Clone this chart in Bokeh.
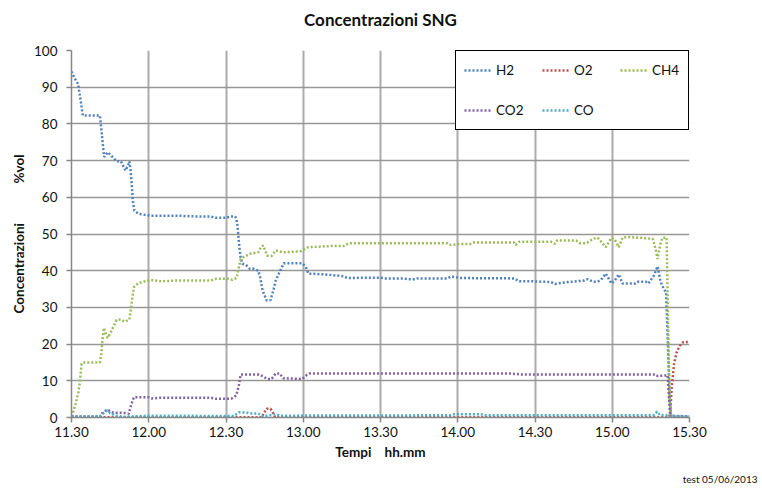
from bokeh.plotting import figure
from bokeh.models import FixedTicker, Legend, LegendItem, Title, Range1d
from bokeh.embed import file_html
from bokeh.resources import INLINE

# time axis: minutes after 11:30
tick_minutes = [0, 30, 60, 90, 120, 150, 180, 210, 240]
tick_labels = ["11.30", "12.00", "12.30", "13.00", "13.30", "14.00", "14.30", "15.00", "15.30"]
y_ticks = [0, 10, 20, 30, 40, 50, 60, 70, 80, 90, 100]

h2_t = [0, 0.8, 1.9, 2.6, 2.9, 3.3, 3.7, 4.0, 4.4, 11.0, 11.3, 11.8, 12.3, 12.7, 14.1, 15.8,
        17.5, 19.2, 20.3, 21.0, 22.1, 22.5, 23.0, 23.3, 23.8, 24.4, 26.0, 30.4, 35, 41, 48,
        54, 56, 60, 62, 63.5, 64.0, 64.5, 65.1, 65.7, 66.4, 67.7, 69.3, 70.9, 72.5, 73.2,
        74.2, 75.8, 77.3, 78.5, 79.3, 80.8, 82.4, 89.6, 91, 92, 98, 105.7, 107.1, 115.6,
        120.1, 122, 127.9, 132.4, 134.3, 146, 147.3, 151.2, 171.9, 173.9, 179.7, 186.2,
        187.7, 192.7, 199.1, 200.4, 202.5, 204.3, 205.6, 207.5, 209.7, 211, 212.5, 214,
        219, 220, 223, 224, 226.2, 227.6, 228.6, 229.2, 230.9, 231.6, 232.3, 232.8, 240]
h2_v = [94.3, 93, 91.6, 90.9, 89.3, 87.6, 85.7, 84.1, 82.3, 82.3, 80.5, 77, 73.5, 71, 72.3, 71.1,
        69.8, 69.8, 68.2, 67.3, 68.9, 69.8, 67, 64.4, 59.1, 56.4, 55.5, 55.0, 55.0, 55.0, 54.8,
        54.8, 54.4, 54.4, 54.8, 54.8, 54.3, 52.1, 47, 43.5, 41.9, 41.6, 40.5, 40.5, 40, 38.4,
        34.6, 31.9, 32, 35, 37.3, 39.6, 42, 42, 41, 39.2, 39, 38.5, 38.0, 38.1,
        38.1, 37.9, 37.9, 37.6, 37.9, 37.9, 38.4, 38.0, 37.9, 37.1, 37.1, 36.9,
        36.4, 36.9, 37.3, 37.7, 37.0, 37.0, 37.5, 39.2, 36.5, 37.3, 39, 36.5,
        36.5, 37, 37, 36.5, 38.7, 41.2, 37.6, 36.2, 34, 20, 5, 0.5, 0.3]

o2_t = [0, 74, 74.5, 75.8, 77.3, 78.5, 79, 232, 232.5, 233.1, 234, 235, 236.3, 237.5, 240]
o2_v = [0.1, 0.1, 1.0, 2.4, 2.4, 1.0, 0.1, 0.1, 1, 8.3, 14.6, 17.8, 19.6, 20.5, 20.6]

ch4_t = [0, 0.5, 1.5, 2.6, 3.3, 3.9, 4.5, 11, 11.5, 12.0, 12.6, 13.2, 14.1, 15.8, 17.5, 19.2,
         20.7, 22.5, 23.3, 24.2, 25.9, 28, 30.8, 34.6, 40, 48, 54, 56, 61, 62.5, 64.1, 65,
         65.7, 67, 69.3, 72.5, 73.5, 74.4, 76, 77.7, 79.3, 82.4, 89, 92, 100, 105.7, 107.7,
         146, 147.3, 151.2, 155, 156, 171.9, 172.5, 173.9, 186.2, 187.7, 188.5, 196, 197.5,
         200, 202.5, 204.3, 205.6, 207.5, 209.7, 211, 212.5, 214, 216, 225.7, 226.8, 227.6,
         228.6, 229.5, 231.1, 231.6, 232.1, 232.6, 233, 240]
ch4_v = [0.3, 1.2, 3.5, 6.5, 10, 14.6, 15, 15, 17, 21, 24.4, 23, 21.7, 24, 26.6, 26.7,
         26.1, 26.7, 31, 35.5, 36.6, 37, 37.5, 37.1, 37.3, 37.3, 37.3, 37.8, 37.8, 37.5, 38, 41,
         43.2, 43.8, 44.6, 45, 46.3, 46.9, 44.1, 44, 45.5, 45, 45.3, 46.4, 46.7, 46.7, 47.5,
         47.5, 47, 47.3, 47.3, 47.7, 47.7, 47, 47.9, 47.9, 47.3, 48.2, 48.2, 47.5,
         47.5, 48.7, 49, 48, 46.4, 49, 48.4, 46.4, 49, 49.2, 48.7, 46, 43.2,
         47, 49, 49, 30, 10, 1, 0.2, 0]

co2_t = [0, 11.3, 12.2, 14, 15.8, 17.5, 19.2, 20.7, 22.2, 23.3, 24.2, 30, 31, 35, 54, 56, 62,
         64, 65, 65.7, 72.8, 74.4, 76, 77.7, 79.3, 80.8, 82.2, 89.6, 91.4, 92.5, 170, 175,
         227, 227.6, 231.5, 232.5, 240]
co2_v = [0.3, 0.3, 1.5, 2.1, 1.4, 1.3, 1.3, 1.2, 1.0, 3.7, 5.5, 5.5, 5.2, 5.4, 5.4, 5.1, 5.1,
         6, 8.8, 11.7, 11.7, 11.2, 10.5, 10.5, 12, 12, 10.7, 10.5, 11.6, 12, 12, 11.7,
         11.7, 11.3, 11.5, 0.3, 0.2]

co_t = [0, 11, 12.2, 13.2, 13.9, 15, 15.8, 17, 20, 24, 30, 63, 65, 68.3, 69, 72.5, 74.5, 76,
        79.3, 81, 147, 148, 159, 160, 226, 227.4, 228.5, 231, 232.5, 240]
co_v = [0.3, 0.3, 1.0, 1.7, 1.9, 1.2, 1.0, 0.5, 0.2, 0.3, 0.5, 0.4, 1.4, 1.3, 1.1, 1.1, 0.3, 0.5,
        0.9, 0.5, 0.6, 0.9, 0.9, 0.6, 0.6, 1.6, 0.7, 0.6, 0.2, 0.2]

series_names = ["H2", "O2", "CH4", "CO2", "CO"]
series_colors = ["#4F81BD", "#C0504D", "#9BBB59", "#8064A2", "#4BACC6"]
series_t = [h2_t, o2_t, ch4_t, co2_t, co_t]
series_v = [h2_v, o2_v, ch4_v, co2_v, co_v]

FONT = "Lato"

p = figure(width=760, height=492, output_backend="svg", toolbar_location=None, title=None,
           x_range=Range1d(0, 240), y_range=Range1d(0, 100),
           min_border_left=71, min_border_right=71, min_border_top=50, min_border_bottom=75)
p.outline_line_color = None
p.background_fill_color = "white"
p.border_fill_color = "white"

# title: a thin spacer next to the plot area, then the real title above it
spacer = Title(text=" ", text_font_size="1px", standoff=16)
p.add_layout(spacer, "above")
main_title = Title(text="Concentrazioni SNG", align="center", standoff=4,
                   text_font=FONT, text_font_size="17px", text_font_style="bold",
                   text_color="#111111")
p.add_layout(main_title, "above")

# grid
p.xgrid.grid_line_color = "#ababab"
p.xgrid.grid_line_width = 2
p.ygrid.grid_line_color = "#979797"
p.ygrid.grid_line_width = 1.5

# axes
p.xaxis.ticker = FixedTicker(ticks=tick_minutes)
p.xaxis.major_label_overrides = {m: l for m, l in zip(tick_minutes, tick_labels)}
p.yaxis.ticker = FixedTicker(ticks=y_ticks)
for ax in (p.xaxis[0], p.yaxis[0]):
    ax.axis_line_color = "#868686"
    ax.axis_line_width = 1.5
    ax.major_tick_line_color = "#868686"
    ax.major_tick_line_width = 1.5
    ax.major_tick_in = 0
    ax.major_tick_out = 5
    ax.minor_tick_line_color = None
    ax.major_label_text_font = FONT
    ax.major_label_text_font_size = "13.5px"
    ax.major_label_text_color = "#111111"
    ax.axis_label_text_font = FONT
    ax.axis_label_text_font_size = "13.5px"
    ax.axis_label_text_font_style = "bold"
    ax.axis_label_text_color = "#111111"

p.xaxis.major_label_standoff = 4
p.xaxis.axis_label = "Tempi\u00a0\u00a0\u00a0\u00a0hh.mm"
p.xaxis.axis_label_standoff = 4
p.yaxis.major_label_standoff = 9
p.yaxis.axis_label = "Concentrazioni" + "\u00a0" * 12 + "%vol"
p.yaxis.axis_label_standoff = 4

items = []
for name, color, t, v in zip(series_names, series_colors, series_t, series_v):
    r = p.line(t, v, line_color=color, line_width=2.5, line_dash="2 2")
    items.append(LegendItem(label=name, renderers=[r]))

legend = Legend(items=items, location="top_right", orientation="horizontal", ncols=3,
                glyph_width=28, glyph_height=22, label_height=22, label_width=28,
                label_standoff=4, spacing=18, padding=8, margin=0,
                label_text_font=FONT, label_text_font_size="13.5px", label_text_color="#111111",
                border_line_color="#000000", border_line_width=1, border_line_alpha=1,
                background_fill_color="white", background_fill_alpha=1)
p.add_layout(legend)

# footnote below the axis title, right-aligned near the chart's edge
foot = Title(text="test 05/06/2013", align="right", offset=-68, standoff=16,
             text_font=FONT, text_font_size="10px", text_font_style="normal",
             text_color="#111111")
p.add_layout(foot, "below")

open("out.html", "w").write(file_html(p, INLINE))
